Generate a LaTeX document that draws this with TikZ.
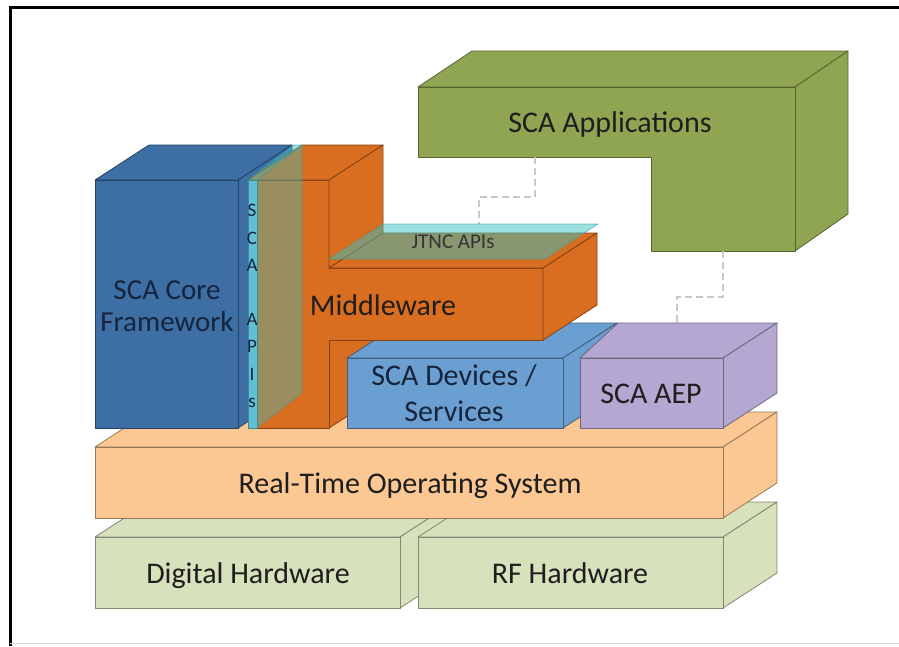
\documentclass[tikz,border=0pt]{standalone}
\usepackage{fontspec}
\setmainfont{Carlito}
\definecolor{appsG}{RGB}{143,165,82}
\definecolor{coreB}{RGB}{61,110,164}
\definecolor{devB}{RGB}{107,159,209}
\definecolor{mwO}{RGB}{218,110,32}
\definecolor{aepP}{RGB}{180,168,210}
\definecolor{rtosO}{RGB}{251,199,146}
\definecolor{hwG}{RGB}{215,225,187}
\definecolor{apiC}{RGB}{58,192,192}
\definecolor{stripC}{RGB}{95,192,214}
\definecolor{dashG}{RGB}{200,200,200}
\definecolor{txt}{RGB}{30,30,30}
\definecolor{navy}{RGB}{22,36,60}
\tikzset{
  face/.style={fill=#1, draw=#1!60!black, line width=0.8pt, line join=round},
  glass/.style={fill=apiC, fill opacity=#1, draw=apiC!80!black, draw opacity=0.6, line width=0.6pt, line join=round},
  lbl/.style={font=\fontsize{30}{36}\selectfont, text=txt, align=center, inner sep=0pt},
  conn/.style={draw=dashG, line width=1.3pt, dash pattern=on 7pt off 4pt},
}
% #1 colour, #2 x1, #3 y1 (front top-left), #4 x2, #5 y2 (front bottom-right)
\newcommand{\cuboidbox}[5]{%
  \draw[face=#1] (#2,#3) -- ++(54,-35) -- (#4+54,#3-35) -- (#4,#3) -- cycle;
  \draw[face=#1] (#4,#3) -- ++(54,-35) -- (#4+54,#5-35) -- (#4,#5) -- cycle;
  \draw[face=#1] (#2,#3) rectangle (#4,#5);
}
\begin{document}
\begin{tikzpicture}[x=1pt,y=-1pt]
\useasboundingbox (0,0) rectangle (899,646);
% frame
\draw[line width=3pt] (10,646) -- (10,7) -- (899,7);
\draw[line width=0.8pt, black!15] (10,643) -- (899,643);

% SCA Applications (L-shaped block)
\draw[face=appsG] (418,87) -- (472,51) -- (848,51) -- (795,87) -- cycle;
\draw[face=appsG] (795,87) -- (848,51) -- (848,214) -- (795,251) -- cycle;
\draw[face=appsG] (418,87) -- (795,87) -- (795,251) -- (651,251) -- (651,157) -- (418,157) -- cycle;
\node[lbl, anchor=base] (apps) at (610,132) {SCA Applications};
\coordinate (appsArm) at (535,157);
\coordinate (appsLeg) at (723,251);
\coordinate (jtncTop) at (479,224);
\coordinate (aepTop) at (677,323);
\draw[conn] (appsArm) -- ++(0,40) -| (jtncTop);
\draw[conn] (appsLeg) -- ++(0,46) -| (aepTop);

% Hardware
\cuboidbox{hwG}{95}{537}{400}{608}
\cuboidbox{hwG}{418}{537}{723}{608}
\node[lbl, anchor=base] (dig) at (248,583) {Digital Hardware};
\node[lbl, anchor=base] (rf) at (570,583) {RF Hardware};

% RTOS
\cuboidbox{rtosO}{95}{447}{723}{518}
\node[lbl, anchor=base] (rtos) at (410,493) {Real-Time Operating System};

% Core Framework
\cuboidbox{coreB}{95}{180}{238}{428}
\node[lbl, text=navy, font=\fontsize{29}{31.5}\selectfont] (core) at (167,306) {SCA Core\\Framework};

% Middleware lower right face (behind devices)
\draw[face=mwO] (329,340) -- (383,305) -- (383,393) -- (329,428) -- cycle;

% SCA Devices / Services
\cuboidbox{devB}{347}{358}{563}{428}
\node[lbl, text=navy, font=\fontsize{30}{35.5}\selectfont] (dev) at (454,393) {SCA Devices /\\Services};

% SCA AEP
\draw[face=aepP] (580,358) -- (618,323) -- (777,323) -- (723,358) -- cycle;
\draw[face=aepP] (723,358) -- (777,323) -- (777,393) -- (723,428) -- cycle;
\draw[face=aepP] (580,358) rectangle (723,428);
\node[lbl, anchor=base] (aep) at (651,403) {SCA AEP};

% Middleware
\draw[face=mwO] (248,180) -- (329,180) -- (329,268) -- (543,268) -- (543,340) -- (329,340) -- (329,428) -- (248,428) -- cycle;
\draw[face=mwO] (248,180) -- (302,145) -- (383,145) -- (329,180) -- cycle;
\draw[face=mwO] (329,180) -- (383,145) -- (383,233) -- (329,268) -- cycle;
\draw[face=mwO] (329,268) -- (383,233) -- (597,233) -- (543,268) -- cycle;
\draw[face=mwO] (543,268) -- (597,233) -- (597,305) -- (543,340) -- cycle;
\node[lbl, anchor=base] (mw) at (383,315) {Middleware};

% JTNC APIs plane
\draw[glass=0.5] (329,259) -- (383,224) -- (598,224) -- (545,259) -- cycle;
\node[lbl, font=\fontsize{21}{25}\selectfont, anchor=base, text=black!80] (jtnc) at (453,248) {JTNC APIs};

% SCA APIs slab
\draw[glass=0.4] (257,180) -- (302,145) -- (302,393) -- (257,428) -- cycle;
\draw[glass=0.5] (248,180) -- (293,145) -- (302,145) -- (257,180) -- cycle;
\draw[fill=stripC, draw=stripC!70!black, line width=0.6pt] (248,180) rectangle (257,428);
\node[lbl, text=navy, font=\fontsize{19}{27.2}\selectfont] (scaapi) at (252,306) {S\\C\\A\\\mbox{}\\A\\P\\I\\s};
\end{tikzpicture}
\end{document}
